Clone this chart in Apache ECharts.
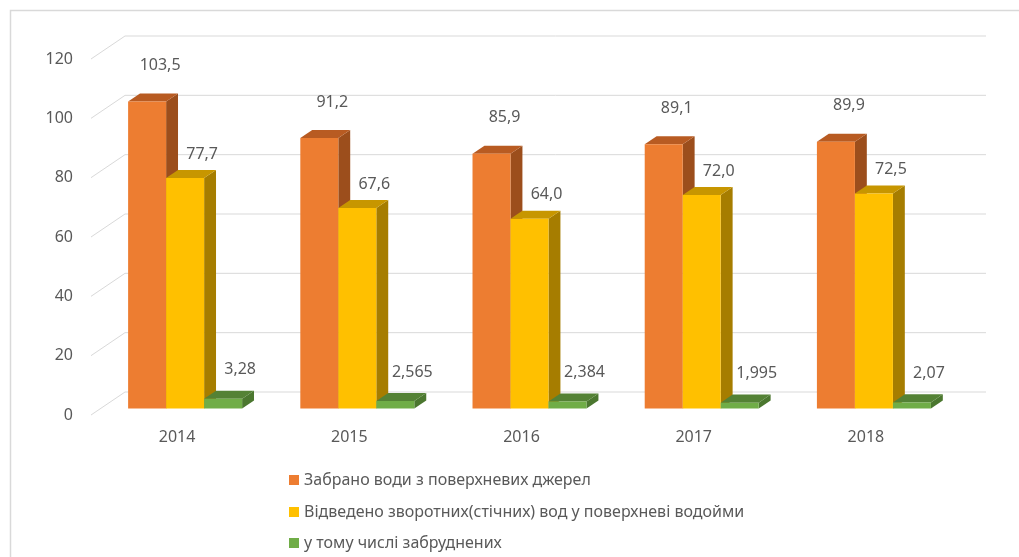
<!DOCTYPE html>
<html>
<head>
<meta charset="utf-8">
<script src="https://cdn.jsdelivr.net/npm/echarts@6/dist/echarts.min.js"></script>
<style>
  html, body { margin: 0; padding: 0; background: #fff; }
  #chart { width: 1019px; height: 557px; }
</style>
</head>
<body>
<div id="chart"></div>
<script>
(function () {
    var years = ['2014', '2015', '2016', '2017', '2018'];
    var taken = [103.5, 91.2, 85.9, 89.1, 89.9];
    var returned = [77.7, 67.6, 64.0, 72.0, 72.5];
    var polluted = [3.28, 2.565, 2.384, 1.995, 2.07];
    var yTicks = [0, 20, 40, 60, 80, 100, 120];
    var names = [
        'Забрано води з поверхневих джерел',
        'Відведено зворотних(стічних) вод у поверхневі водойми',
        'у тому числі забруднених'
    ];

    // oblique depth of the back wall
    var DX = 34, DY = 23;
    // bar slab lies between these depth fractions
    var D1 = 0.28, D2 = 0.63;
    var FONT = '"Noto Sans", sans-serif';

    var faces = [
        { front: '#ED7D31', top: '#B85B22', side: '#9C4E1C', lx: 13, ly: 36, fmt: 1 },
        { front: '#FFC000', top: '#C79600', side: '#A67D00', lx: 17, ly: 24, fmt: 1 },
        { front: '#70AD47', top: '#548235', side: '#4B772F', lx: 17, ly: 29, fmt: 0 }
    ];

    function label(v, fmt) {
        var s = fmt ? v.toFixed(1) : String(v);
        return s.replace('.', ',');
    }

    function wallItem(params, api) {
        var cs = params.coordSys;
        var p = api.coord([0, api.value(0)]);
        var y = p[1];
        return {
            type: 'polyline',
            shape: { points: [[cs.x, y], [cs.x + DX, y - DY], [cs.x + cs.width + DX, y - DY]] },
            style: { stroke: '#D9D9D9', lineWidth: 1, fill: null }
        };
    }

    function barItem(si) {
        return function (params, api) {
            var idx = api.value(0), val = api.value(1);
            var top = api.coord([idx, val]);
            var base = api.coord([idx, 0]);
            var band = api.size([1, 0])[0];
            var w = band * 0.2207;
            var f = faces[si];
            var x0 = top[0] - 1.5 * w + si * w + D1 * DX - 1.5;
            var x1 = x0 + w;
            var yt = top[1] - D1 * DY;
            var yb = base[1] - D1 * DY;
            var sx = (D2 - D1) * DX, sy = (D2 - D1) * DY;
            return {
                type: 'group',
                children: [
                    { type: 'polygon', shape: { points: [[x1, yt], [x1 + sx, yt - sy], [x1 + sx, yb - sy], [x1, yb]] }, style: { fill: f.side } },
                    { type: 'polygon', shape: { points: [[x0, yt], [x0 + sx, yt - sy], [x1 + sx, yt - sy], [x1, yt]] }, style: { fill: f.top } },
                    { type: 'rect', shape: { x: x0, y: yt, width: w, height: yb - yt }, style: { fill: f.front } },
                    {
                        type: 'text',
                        x: x0 + w / 2 + f.lx, y: yt - f.ly,
                        style: {
                            text: label(val, f.fmt), fill: '#595959',
                            font: '16px ' + FONT, align: 'center', verticalAlign: 'middle'
                        }
                    }
                ]
            };
        };
    }

    function pairs(arr) {
        return arr.map(function (v, i) { return [i, v]; });
    }

    function legendRow(i, top) {
        return {
            orient: 'vertical',
            left: 284,
            top: top,
            itemWidth: 10,
            itemHeight: 10,
            icon: 'rect',
            data: [names[i]],
            textStyle: { color: '#595959', fontSize: 16, fontFamily: FONT }
        };
    }

    var chart = echarts.init(document.getElementById('chart'));

    var option = {
        backgroundColor: '#fff',
        animation: false,
        textStyle: { fontFamily: FONT },
        graphic: [{
            type: 'rect',
            shape: { x: 10.5, y: 10.5, width: 1060, height: 600 },
            style: { fill: null, stroke: '#D9D9D9', lineWidth: 1.5 },
            silent: true
        }],
        grid: { left: 91, right: 67, top: 59, bottom: 142 },
        legend: [legendRow(0, 467), legendRow(1, 499), legendRow(2, 530)],
        xAxis: {
            type: 'category',
            data: years,
            axisLine: { show: false },
            axisTick: { show: false },
            axisLabel: { color: '#595959', fontSize: 16, margin: 14 }
        },
        yAxis: {
            type: 'value',
            min: 0,
            max: 120,
            interval: 20,
            splitLine: { show: false },
            axisLine: { show: false },
            axisTick: { show: false },
            axisLabel: { color: '#595959', fontSize: 16, margin: 18 }
        },
        series: [
            {
                type: 'custom',
                renderItem: wallItem,
                encode: { y: 0 },
                data: yTicks.map(function (t) { return [t]; }),
                silent: true,
                z: 1
            },
            {
                name: names[0], type: 'custom', renderItem: barItem(0),
                itemStyle: { color: faces[0].front }, encode: { x: 0, y: 1 },
                data: pairs(taken), z: 2
            },
            {
                name: names[1], type: 'custom', renderItem: barItem(1),
                itemStyle: { color: faces[1].front }, encode: { x: 0, y: 1 },
                data: pairs(returned), z: 2
            },
            {
                name: names[2], type: 'custom', renderItem: barItem(2),
                itemStyle: { color: faces[2].front }, encode: { x: 0, y: 1 },
                data: pairs(polluted), z: 2
            }
        ]
    };
    chart.setOption(option);
})();
</script>
</body>
</html>
